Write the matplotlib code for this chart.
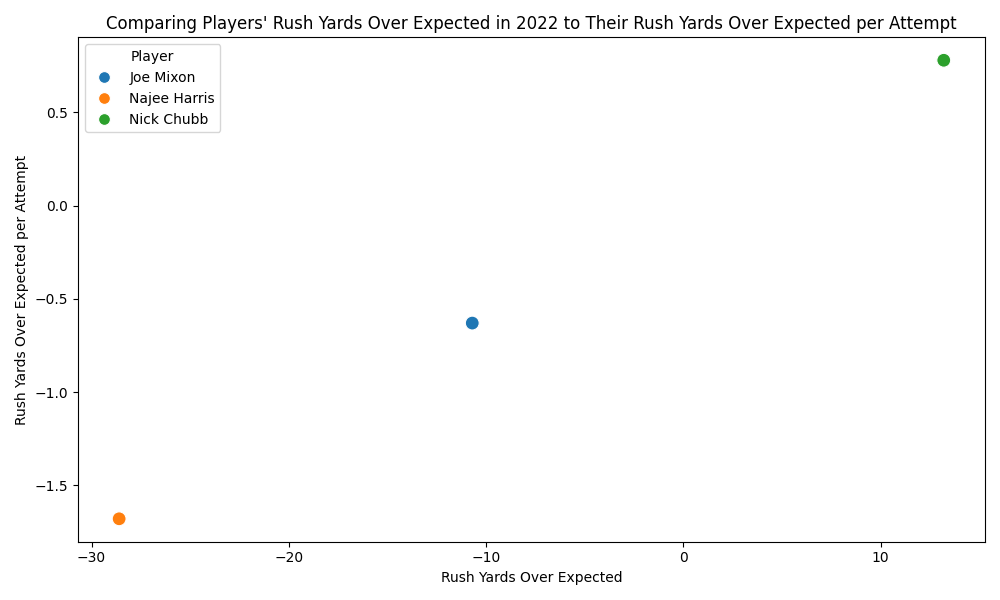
import matplotlib
matplotlib.use("Agg")
import matplotlib.pyplot as plt
import seaborn as sns
import pandas as pd

# values
players = ["Joe Mixon", "Najee Harris", "Nick Chubb"]
ryoe = [-10.7, -28.6, 13.2]
ryoe_per_att = [-0.63, -1.68, 0.78]

df = pd.DataFrame({"Player": players,
                   "Rush Yards Over Expected": ryoe,
                   "Rush Yards Over Expected per Attempt": ryoe_per_att})

plt.figure(figsize=(10, 6))
ax = sns.scatterplot(data=df, x="Rush Yards Over Expected",
                     y="Rush Yards Over Expected per Attempt",
                     hue="Player", s=100)
# smaller markers in the legend, like the reference
leg = ax.get_legend()
for h in leg.legend_handles:
    if hasattr(h, "set_markersize"):
        h.set_markersize(8.5)
    elif hasattr(h, "set_sizes"):
        h.set_sizes([40])
plt.title("Comparing Players' Rush Yards Over Expected in 2022 to Their Rush Yards Over Expected per Attempt")
plt.tight_layout()
plt.savefig("out.png", dpi=100)
plt.close()
